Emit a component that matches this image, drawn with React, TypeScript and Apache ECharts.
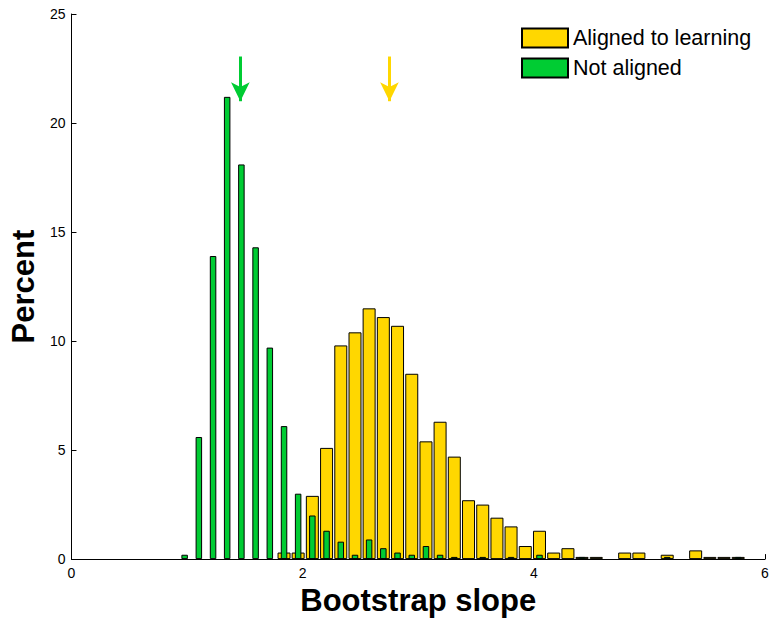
import React, { useEffect, useRef } from "react";
import * as echarts from "echarts";

// Bin centers (Bootstrap slope)
const binCenters = [
  0.979, 1.102, 1.225, 1.347, 1.47, 1.593, 1.716, 1.839, 1.961, 2.084,
  2.207, 2.33, 2.453, 2.575, 2.698, 2.821, 2.944, 3.067, 3.189, 3.312,
  3.435, 3.558, 3.681, 3.803, 3.926, 4.049, 4.172, 4.295, 4.417, 4.54,
  4.663, 4.786, 4.909, 5.031, 5.154, 5.277, 5.4, 5.523, 5.645, 5.768,
];

// Percent, aligned to learning (yellow)
const alignedValues = [
  0, 0, 0, 0, 0, 0, 0, 0.3, 0.3, 2.9,
  5.1, 9.8, 10.4, 11.5, 11.1, 10.7, 8.5, 5.4, 6.3, 4.7,
  2.7, 2.5, 1.9, 1.5, 0.6, 1.3, 0.3, 0.5, 0.1, 0.1,
  0, 0.3, 0.3, 0, 0.2, 0, 0.4, 0.1, 0.1, 0.1,
];

// Percent, not aligned (green)
const notAlignedValues = [
  0.2, 5.6, 13.9, 21.2, 18.1, 14.3, 9.7, 6.1, 3.0, 2.0,
  1.3, 0.8, 0.2, 0.9, 0.5, 0.3, 0.2, 0.6, 0.2, 0.1,
  0, 0.1, 0, 0.1, 0, 0.2, 0, 0, 0.1, 0,
  0, 0, 0, 0, 0.1, 0, 0, 0, 0, 0.1,
];

// Mean markers (arrows)
const notAlignedMean = 1.461;
const alignedMean = 2.751;
const arrowTop = 23.05;
const arrowTip = 21.0;

const xTicks = [0, 2, 4, 6];
const yTicks = [0, 5, 10, 15, 20, 25];

const YELLOW = "#FFD700";
const GREEN = "#00CC33";
const FONT = "'Liberation Sans', Arial, Helvetica, sans-serif";

function toPairs(values: number[]) {
  return binCenters
    .map((c, i) => [c, values[i]])
    .filter((p) => p[1] > 0);
}

export default function App() {
  const ref = useRef<HTMLDivElement>(null);
  useEffect(() => {
    if (!ref.current) return;
    const chart = echarts.init(ref.current, null, { renderer: "svg" });
    const axisCommon = {
      type: "value" as const,
      min: xTicks[0],
      max: xTicks[xTicks.length - 1],
      interval: 2,
    };
    chart.setOption({
      animation: false,
      backgroundColor: "#ffffff",
      textStyle: { fontFamily: FONT },
      grid: { left: 71, right: 7, top: 14, bottom: 58, containLabel: false },
      legend: {
        orient: "vertical",
        left: 521,
        top: 27,
        padding: 0,
        itemWidth: 46,
        itemHeight: 19,
        itemGap: 8,
        icon: "rect",
        textStyle: { fontSize: 21.5, color: "#000", fontFamily: FONT },
        data: ["Aligned to learning", "Not aligned"],
      },
      xAxis: [
        {
          ...axisCommon,
          name: "Bootstrap slope",
          nameLocation: "middle",
          nameGap: 17,
          nameTextStyle: { fontSize: 31, fontWeight: "bold", color: "#000", fontFamily: FONT },
          axisLine: { show: true, lineStyle: { color: "#000", width: 1 } },
          axisTick: { show: true, inside: true, length: 5, lineStyle: { color: "#000" } },
          axisLabel: { fontSize: 14, color: "#000", margin: 7, fontFamily: FONT },
          splitLine: { show: false },
        },
        {
          ...axisCommon,
          show: false,
          position: "bottom",
        },
      ],
      yAxis: {
        type: "value",
        min: yTicks[0],
        max: yTicks[yTicks.length - 1],
        interval: 5,
        name: "Percent",
        nameLocation: "middle",
        nameGap: 30,
        nameTextStyle: { fontSize: 31, fontWeight: "bold", color: "#000", fontFamily: FONT },
        axisLine: { show: true, lineStyle: { color: "#000", width: 1 } },
        axisTick: { show: true, inside: true, length: 5, lineStyle: { color: "#000" } },
        axisLabel: { fontSize: 14, color: "#000", margin: 6, fontFamily: FONT },
        splitLine: { show: false },
      },
      series: [
        {
          name: "Aligned to learning",
          type: "bar",
          xAxisIndex: 0,
          barWidth: 13,
          data: toPairs(alignedValues),
          itemStyle: { color: YELLOW, borderColor: "#000", borderWidth: 1 },
          markLine: {
            silent: true,
            symbol: ["none", "arrow"],
            symbolSize: [14, 19],
            label: { show: false },
            lineStyle: { color: YELLOW, width: 3, type: "solid" },
            data: [
              [
                { coord: [alignedMean, arrowTop] },
                { coord: [alignedMean, arrowTip] },
              ],
            ],
          },
        },
        {
          name: "Not aligned",
          type: "bar",
          xAxisIndex: 1,
          barWidth: 6.5,
          data: toPairs(notAlignedValues),
          itemStyle: { color: GREEN, borderColor: "#000", borderWidth: 1 },
          markLine: {
            silent: true,
            symbol: ["none", "arrow"],
            symbolSize: [14, 19],
            label: { show: false },
            lineStyle: { color: GREEN, width: 3, type: "solid" },
            data: [
              [
                { coord: [notAlignedMean, arrowTop] },
                { coord: [notAlignedMean, arrowTip] },
              ],
            ],
          },
        },
      ],
    });
    return () => chart.dispose();
  }, []);
  return (
    <div
      ref={ref}
      style={{ position: "absolute", left: 0, top: 0, width: 772, height: 621 }}
    />
  );
}
